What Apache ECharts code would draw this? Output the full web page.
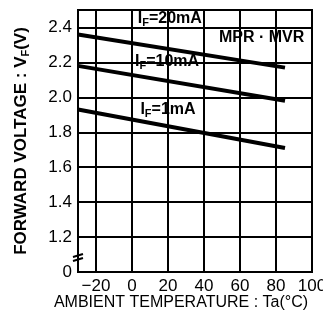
<!DOCTYPE html>
<html>
<head>
<meta charset="utf-8">
<script src="https://cdn.jsdelivr.net/npm/echarts@6/dist/echarts.min.js"></script>
<style>
html,body{margin:0;padding:0;background:#fff;}
#chart{width:323px;height:311px;}
</style>
</head>
<body>
<div id="chart"></div>
<script>
// forward voltage vs ambient temperature
var temps = [-30, 85];
var vf20 = [2.36, 2.17];
var vf10 = [2.18, 1.98];
var vf1 = [1.93, 1.71];
var xGrid = [-20, 0, 20, 40, 60, 80];

var font = 'Liberation Sans';
var myChart = echarts.init(document.getElementById('chart'));

function pairs(ys) {
  return temps.map(function (t, i) { return [t, ys[i]]; });
}
var subRich = {
  a: { fontFamily: font, fontSize: 16, fontWeight: 'bold', color: '#000' },
  s: { fontFamily: font, fontSize: 11, fontWeight: 'bold', color: '#000', verticalAlign: 'bottom', padding: [9, 0, 0, 0] }
};
function tag(coord, text) {
  return {
    coord: coord, symbol: 'rect', symbolSize: 1, itemStyle: { color: 'rgba(0,0,0,0)' },
    label: { show: true, position: 'inside', formatter: text, rich: subRich }
  };
}
function line(name, ys, extra) {
  var s = {
    name: name, type: 'line', data: pairs(ys), symbol: 'none',
    lineStyle: { color: '#000', width: 4 }, silent: true, z: 5
  };
  if (extra) { for (var k in extra) s[k] = extra[k]; }
  return s;
}

var option = {
  animation: false,
  grid: {
    left: 78, right: 11, top: 10, bottom: 39, containLabel: false, outerBoundsMode: 'none',
    show: true, borderColor: '#000', borderWidth: 2
  },
  xAxis: {
    type: 'value', min: -30, max: 100, interval: 10,
    axisLine: { show: false }, axisTick: { show: false }, splitLine: { show: false },
    name: 'AMBIENT TEMPERATURE : Ta(°C)', nameLocation: 'middle', nameGap: 23, nameMoveOverlap: false,
    nameTextStyle: { fontFamily: font, fontSize: 16, color: '#000', padding: [0, 28, 0, 0] },
    axisLabel: {
      margin: 6, fontFamily: font, fontSize: 17, color: '#000', showMinLabel: true, showMaxLabel: true,
      formatter: function (v) {
        if (v === -30 || v % 20 !== 0) return '';
        return v < 0 ? '\u2212' + Math.abs(v) : String(v);
      }
    }
  },
  yAxis: {
    type: 'value', min: 1.0, max: 2.5, interval: 0.2,
    axisLine: { show: false }, axisTick: { show: false },
    splitLine: { show: true, lineStyle: { color: '#000', width: 2 } },
    name: '{b|FORWARD VOLTAGE : V}{s|F}{b|(V)}', nameLocation: 'middle', nameGap: 47,
    nameTextStyle: {
      rich: {
        b: { fontFamily: font, fontSize: 17, fontWeight: 'bold', color: '#000' },
        s: { fontFamily: font, fontSize: 11, fontWeight: 'bold', color: '#000', verticalAlign: 'bottom', padding: [9, 0, 0, 0] }
      }
    },
    axisLabel: {
      margin: 6, fontFamily: font, fontSize: 17, color: '#000', showMaxLabel: false,
      formatter: function (v) {
        if (Math.abs(v - 1) < 1e-6) return '0';
        if (Math.abs(v - 2.5) < 1e-6) return '';
        return v.toFixed(1);
      }
    }
  },
  series: [
    line('20mA', vf20, {
      markPoint: { silent: true, data: [
        tag([21, 2.45], '{a|I}{s|F}{a|=20mA}'),
        tag([72, 2.34], '{a|MPR \u00b7 MVR}')
      ] },
      markLine: {
        silent: true, symbol: 'none', label: { show: false },
        lineStyle: { color: '#000', width: 2, type: 'solid' },
        data: xGrid.map(function (x) { return { xAxis: x }; })
      }
    }),
    line('10mA', vf10, { markPoint: { silent: true, data: [tag([19.5, 2.205], '{a|I}{s|F}{a|=10mA}')] } }),
    line('1mA', vf1, { markPoint: { silent: true, data: [tag([20, 1.93], '{a|I}{s|F}{a|=1mA}')] } })
  ]
};
myChart.setOption(option, true);

// axis break mark near the bottom of the voltage axis
var p = myChart.convertToPixel({ gridIndex: 0 }, [-30, 1.08]);
myChart.setOption({
  graphic: [
    { type: 'line', shape: { x1: p[0] - 5, y1: p[1] - 1, x2: p[0] + 5, y2: p[1] - 4 }, style: { stroke: '#000', lineWidth: 2 } },
    { type: 'line', shape: { x1: p[0] - 5, y1: p[1] + 3, x2: p[0] + 5, y2: p[1] }, style: { stroke: '#000', lineWidth: 2 } }
  ]
});
</script>
</body>
</html>
